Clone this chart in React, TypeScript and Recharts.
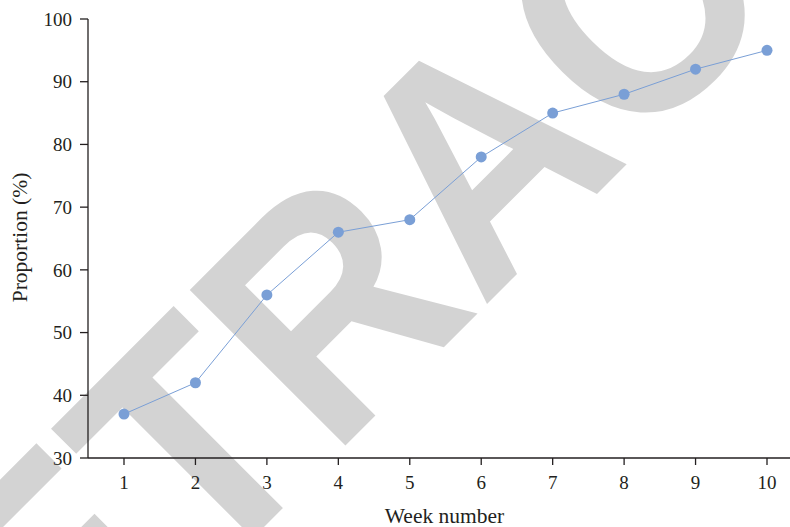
import React from "react";
import { LineChart, Line, XAxis, YAxis } from "recharts";

const weeks = ["1", "2", "3", "4", "5", "6", "7", "8", "9", "10"];
const proportion = [37, 42, 56, 66, 68, 78, 85, 88, 92, 95];
const yTicks = [30, 40, 50, 60, 70, 80, 90, 100];

const data = weeks.map((w, i) => ({ week: w, value: proportion[i] }));

const INK = "#231f20";
const LINE = "#7a9fd6";
const FONT = "'Liberation Serif', 'Times New Roman', serif";

const YTitle = ({ viewBox }: any) => {
  const cy = viewBox.y + viewBox.height / 2 - 1;
  return (
    <text x={27} y={cy} transform={`rotate(-90 27 ${cy})`} textAnchor="middle"
      fill={INK} fontSize={21.5} fontFamily={FONT}>
      Proportion (%)
    </text>
  );
};

const XTitle = ({ viewBox }: any) => (
  <text x={viewBox.x + viewBox.width / 2 - 1} y={viewBox.y + 65} textAnchor="middle"
    fill={INK} fontSize={21.5} fontFamily={FONT}>
    Week number
  </text>
);

export default function App() {
  return (
    <div style={{ position: "absolute", left: 0, top: 0, width: 790, height: 527, overflow: "hidden", background: "#fff" }}>
      {/* watermark behind the chart */}
      <svg width={790} height={527} style={{ position: "absolute", left: 0, top: 0 }}>
        <text x={0} y={0} transform="translate(557 234) rotate(-45) scale(0.92 1)" textAnchor="middle"
          fontFamily="'Liberation Sans', Arial, sans-serif" fontWeight="bold" fontSize={320} fill="#d3d3d3">
          RETRACTED
        </text>
      </svg>
      <div style={{ position: "absolute", left: 0, top: 0 }}>
        <LineChart width={805} height={527} data={data} margin={{ top: 19, right: 2, bottom: 0, left: 0 }}>
          <XAxis dataKey="week" height={69} padding={{ left: 36, right: 36 }}
            stroke={INK} strokeWidth={1.3} tickSize={7} tickMargin={11}
            tick={{ fill: INK, fontSize: 19, fontFamily: FONT }}
            label={<XTitle />} />
          <YAxis domain={[30, 100]} ticks={yTicks} width={88} type="number"
            stroke={INK} strokeWidth={1.3} tickSize={8} tickMargin={8}
            tick={{ fill: INK, fontSize: 19, fontFamily: FONT }}
            label={<YTitle />} />
          <Line type="linear" dataKey="value" stroke={LINE} strokeWidth={1}
            dot={{ r: 5.5, fill: LINE, stroke: "none" }} isAnimationActive={false} />
        </LineChart>
      </div>
    </div>
  );
}
